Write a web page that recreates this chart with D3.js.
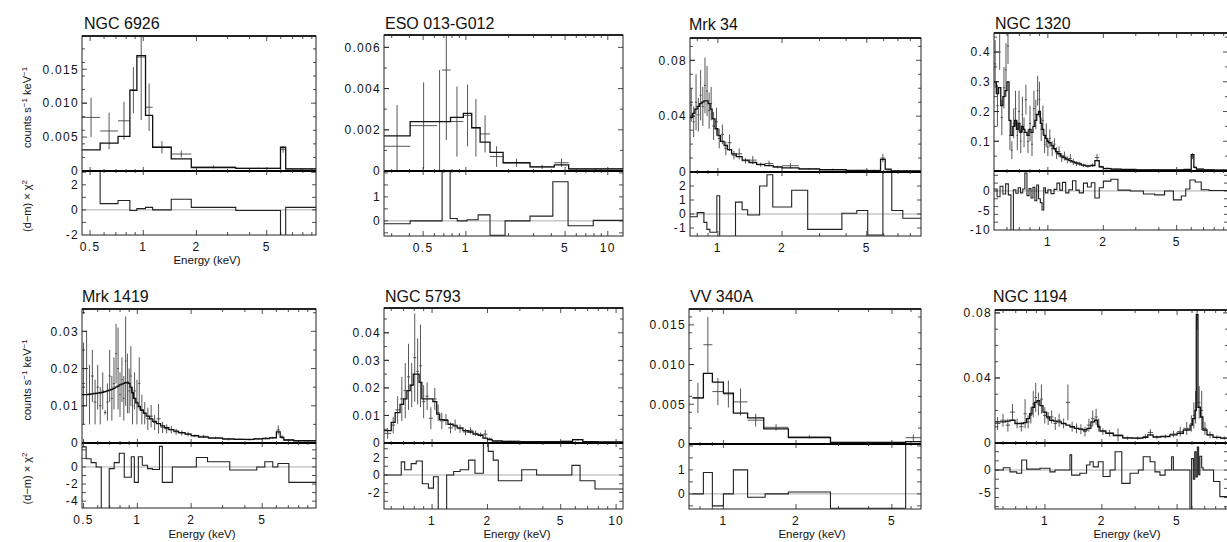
<!DOCTYPE html>
<html><head><meta charset="utf-8">
<script src="https://cdn.jsdelivr.net/npm/d3@7"></script>
<style>
body{margin:0;background:#fff;}
svg{display:block;}
text{font-family:"Liberation Sans",Arial,Helvetica,sans-serif;fill:#111;}
</style></head><body>
<svg id="chart" width="1227" height="542"></svg>
<script>
// ---------- titles ----------
const panelNames = ["NGC 6926","ESO 013-G012","Mrk 34","NGC 1320","Mrk 1419","NGC 5793","VV 340A","NGC 1194"];

// ---------- NGC 6926 ----------
const ngc6926XRange = [0.45, 9.5];
const ngc6926YRange = [0, 0.0199];
const ngc6926RRange = [-2, 3.1];
const ngc6926XTicks = [0.5, 1, 2, 5];
const ngc6926YLabels = ["0","0.005","0.010","0.015"];
const ngc6926RLabels = ["-2","0","2"];
const ngc6926Edges = [0.45, 0.57, 0.72, 0.84, 0.92, 1.03, 1.13, 1.44, 1.87, 3.34, 5.98, 6.4, 9.5];
const ngc6926Model = [0.0031, 0.0041, 0.0051, 0.0119, 0.017, 0.0082, 0.0035, 0.0018, 0.0005, 0.0004, 0.0035, 0.0003];
const ngc6926Data  = [0.0079, 0.0059, 0.0074, 0.0119, 0.0168, 0.0094, 0.0035, 0.0025, 0.0006, 0.0004, 0.0032, 0.0003];
const ngc6926Err   = [0.0029, 0.0027, 0.0028, 0.0034, 0.0093, 0.0035, 0.0009, 0.0005, 0.0002, 0.0001, 0.0005, 0.0001];
const ngc6926ResEdges = [0.45, 0.57, 0.72, 0.84, 0.92, 1.03, 1.13, 1.44, 1.87, 3.34, 5.98, 6.4, 9.5];
const ngc6926Res = [3.5, 0.5, 0.75, -0.05, 0.1, 0.2, 0, 0.85, 0.2, -0.05, -2.1, 0.2];

// ---------- ESO 013-G012 ----------
const eso013XRange = [0.265, 12.8];
const eso013YRange = [0, 0.0066];
const eso013RRange = [-0.63, 2.08];
const eso013XTicks = [0.5, 1, 5, 10];
const eso013YLabels = ["0","0.002","0.004","0.006"];
const eso013RLabels = ["0","1"];
const eso013Edges = [0.265, 0.405, 0.627, 0.68, 0.78, 0.96, 1.1, 1.26, 1.48, 1.83, 2.83, 4.2, 5.3, 12.8];
const eso013Model = [0.0017, 0.0024, 0.0024, 0.0024, 0.0026, 0.0028, 0.0021, 0.0014, 0.0009, 0.0004, 0.0002, 0.0003, 0.0001];
const eso013Data  = [0.0012, 0.0022, 0.0024, 0.0049, 0.0024, 0.0027, 0.0021, 0.0018, 0.0007, 0.0004, 0.0002, 0.0004, 0.0001];
const eso013Err   = [0.0020, 0.0021, 0.0025, 0.0034, 0.0017, 0.0015, 0.0014, 0.0009, 0.0005, 0.0002, 0.0001, 0.0002, 0.00005];
const eso013ResEdges = [0.265, 0.405, 0.68, 0.775, 0.87, 1.02, 1.22, 1.48, 1.89, 2.83, 4.1, 5.25, 7.9, 12.8];
const eso013Res = [-0.12, 0, 2.2, 0.1, 0, 0.05, 0.25, -0.6, 0, 0.2, 1.63, -0.2, 0.02];

// ---------- Mrk 34 ----------
const mrk34XRange = [0.74, 8.98];
const mrk34YRange = [0, 0.096];
const mrk34RRange = [-1.57, 3.0];
const mrk34XTicks = [1, 2, 5];
const mrk34YLabels = ["0","0.04","0.08"];
const mrk34RLabels = ["-1","0","1","2"];
const mrk34Edges = [0.74, 0.76, 0.78, 0.80, 0.82, 0.84, 0.86, 0.88, 0.90, 0.92, 0.94, 0.97, 1.0, 1.03, 1.07, 1.11, 1.16, 1.22, 1.3, 1.4, 1.52, 1.66, 1.82, 2.0, 2.4, 3.0, 4.0, 5.0, 5.8, 6.1, 6.5, 8.98];
const mrk34Model = [0.039, 0.042, 0.045, 0.047, 0.049, 0.05, 0.051, 0.051, 0.049, 0.045, 0.038, 0.031, 0.026, 0.022, 0.019, 0.016, 0.013, 0.011, 0.0085, 0.0068, 0.0055, 0.0045, 0.0037, 0.003, 0.0022, 0.0016, 0.0012, 0.001, 0.009, 0.002, 0.0007];
const mrk34Data  = [0.048, 0.036, 0.050, 0.041, 0.055, 0.047, 0.062, 0.058, 0.044, 0.049, 0.033, 0.036, 0.024, 0.027, 0.017, 0.021, 0.012, 0.013, 0.008, 0.0085, 0.0052, 0.0061, 0.0035, 0.0045, 0.0021, 0.0018, 0.0011, 0.0012, 0.01, 0.0015, 0.0007];
const mrk34Err   = [0.012, 0.011, 0.02, 0.012, 0.018, 0.014, 0.02, 0.018, 0.013, 0.012, 0.01, 0.01, 0.007, 0.007, 0.005, 0.006, 0.003, 0.004, 0.002, 0.003, 0.0015, 0.002, 0.001, 0.002, 0.0006, 0.0006, 0.0004, 0.0004, 0.003, 0.0005, 0.0003];
const mrk34ResEdges = [0.74, 0.8, 0.86, 0.888, 0.917, 0.989, 1.02, 1.1, 1.21, 1.3, 1.38, 1.57, 1.7, 1.81, 2.22, 2.64, 3.82, 4.49, 5.05, 5.95, 6.55, 7.38, 8.98];
const mrk34Res = [-0.2, 0.1, -0.6, -1.1, -1.3, 1.3, -1.7, -1.7, 0.85, 0.3, -0.07, 2.0, 2.8, 0.5, 1.7, -1.1, 0.05, 0.25, -1.5, 3.5, 0.25, -0.3];

// ---------- NGC 1320 ----------
const ngc1320XRange = [0.51, 9.5];
const ngc1320YRange = [0, 0.464];
const ngc1320RRange = [-10, 5.1];
const ngc1320XTicks = [1, 2, 5];
const ngc1320YLabels = ["0.1","0.2","0.3","0.4"];
const ngc1320RLabels = ["-10","-5","0"];
const ngc1320Edges = [0.51, 0.525, 0.54, 0.555, 0.57, 0.585, 0.60, 0.615, 0.63, 0.645, 0.66, 0.675, 0.69, 0.705, 0.72, 0.735, 0.75, 0.77, 0.79, 0.81, 0.83, 0.85, 0.87, 0.89, 0.91, 0.93, 0.95, 0.97, 0.99, 1.01, 1.04, 1.07, 1.10, 1.13, 1.17, 1.21, 1.25, 1.30, 1.35, 1.40, 1.46, 1.52, 1.60, 1.70, 1.80, 1.90, 2.0, 2.2, 2.5, 3.0, 3.5, 4.0, 4.5, 5.0, 5.5, 6.0, 6.2, 6.4, 7.0, 8.0, 9.5];
const ngc1320Model = [0.30, 0.26, 0.28, 0.22, 0.25, 0.27, 0.30, 0.17, 0.12, 0.15, 0.17, 0.14, 0.16, 0.13, 0.15, 0.14, 0.13, 0.12, 0.14, 0.13, 0.15, 0.17, 0.19, 0.20, 0.16, 0.14, 0.12, 0.11, 0.10, 0.095, 0.085, 0.075, 0.065, 0.058, 0.05, 0.045, 0.04, 0.035, 0.031, 0.027, 0.024, 0.02, 0.017, 0.018, 0.035, 0.014, 0.008, 0.006, 0.005, 0.004, 0.004, 0.0035, 0.0035, 0.004, 0.005, 0.055, 0.012, 0.006, 0.004, 0.003];
const ngc1320Data  = [0.36, 0.22, 0.40, 0.18, 0.28, 0.34, 0.42, 0.12, 0.07, 0.16, 0.21, 0.12, 0.20, 0.10, 0.19, 0.13, 0.24, 0.10, 0.16, 0.09, 0.21, 0.19, 0.27, 0.24, 0.14, 0.17, 0.09, 0.12, 0.08, 0.11, 0.075, 0.09, 0.06, 0.065, 0.045, 0.05, 0.038, 0.042, 0.03, 0.025, 0.024, 0.019, 0.016, 0.02, 0.045, 0.014, 0.009, 0.006, 0.005, 0.004, 0.004, 0.0035, 0.0035, 0.004, 0.005, 0.05, 0.012, 0.006, 0.004, 0.003];
const ngc1320Err   = [0.08, 0.07, 0.06, 0.06, 0.07, 0.09, 0.06, 0.05, 0.03, 0.05, 0.06, 0.05, 0.07, 0.04, 0.06, 0.05, 0.05, 0.04, 0.06, 0.04, 0.06, 0.05, 0.05, 0.06, 0.04, 0.05, 0.03, 0.04, 0.03, 0.03, 0.025, 0.02, 0.02, 0.018, 0.015, 0.015, 0.012, 0.015, 0.01, 0.008, 0.007, 0.006, 0.005, 0.006, 0.012, 0.004, 0.003, 0.002, 0.0015, 0.001, 0.001, 0.001, 0.001, 0.001, 0.0015, 0.01, 0.003, 0.002, 0.001, 0.001];
const ngc1320ResEdges = [0.51, 0.53, 0.55, 0.57, 0.59, 0.61, 0.63, 0.65, 0.67, 0.69, 0.71, 0.73, 0.75, 0.77, 0.79, 0.81, 0.83, 0.85, 0.87, 0.89, 0.91, 0.93, 0.95, 0.97, 1.0, 1.04, 1.08, 1.12, 1.16, 1.2, 1.25, 1.3, 1.36, 1.42, 1.48, 1.56, 1.64, 1.72, 1.8, 1.9, 2.0, 2.2, 2.4, 2.8, 3.3, 3.8, 4.3, 4.8, 5.3, 5.6, 5.9, 6.3, 6.8, 7.5, 9.5];
const ngc1320Res = [0.5, -1.5, 1.2, -0.8, 1.8, -1, -10.5, 0.3, -0.6, 0.8, -0.5, 0.5, 4.6, -1.2, 0.6, -1.8, 0.9, -2.5, 1.5, -2.0, -3.0, -4.9, 0.8, -0.5, 0.3, -0.7, 0.4, 2.0, 0.2, 2.2, -0.5, 0.3, 2.6, 0.2, -0.5, 2.0, 1.0, 2.1, -1.8, 0.8, 2.5, 3.0, 0.2, 0, -0.8, -1.0, 0, -2.3, -1.3, 0.5, 2.8, 2.3, 0.3, 0.1];

// ---------- Mrk 1419 ----------
const mrk1419XRange = [0.49, 10];
const mrk1419YRange = [0, 0.036];
const mrk1419RRange = [-4.8, 2.8];
const mrk1419XTicks = [0.5, 1, 2, 5];
const mrk1419YLabels = ["0","0.01","0.02","0.03"];
const mrk1419RLabels = ["-4","-2","0"];
const mrk1419Edges = [0.49, 0.51, 0.53, 0.55, 0.57, 0.59, 0.61, 0.63, 0.65, 0.67, 0.69, 0.71, 0.73, 0.75, 0.77, 0.79, 0.81, 0.83, 0.85, 0.87, 0.89, 0.91, 0.93, 0.95, 0.98, 1.01, 1.04, 1.08, 1.12, 1.17, 1.22, 1.28, 1.35, 1.42, 1.5, 1.6, 1.7, 1.85, 2.0, 2.2, 2.5, 3.0, 3.5, 4.0, 4.5, 5.0, 5.5, 6.0, 6.3, 6.6, 7.5, 10];
const mrk1419Model = [0.0130, 0.0130, 0.0131, 0.0132, 0.0133, 0.0134, 0.0135, 0.0136, 0.0138, 0.0140, 0.0142, 0.0144, 0.0147, 0.0150, 0.0153, 0.0156, 0.0158, 0.0160, 0.0162, 0.0163, 0.0160, 0.0150, 0.0135, 0.0120, 0.0108, 0.0098, 0.0088, 0.0080, 0.0072, 0.0065, 0.0058, 0.0052, 0.0046, 0.0041, 0.0036, 0.0032, 0.0028, 0.0024, 0.0020, 0.0016, 0.0013, 0.0011, 0.0010, 0.0010, 0.0011, 0.0012, 0.0014, 0.0030, 0.0015, 0.0008, 0.0006];
const mrk1419Data  = [0.016, 0.020, 0.013, 0.018, 0.011, 0.015, 0.010, 0.014, 0.0082, 0.011, 0.018, 0.012, 0.016, 0.024, 0.020, 0.013, 0.017, 0.012, 0.022, 0.016, 0.014, 0.018, 0.010, 0.014, 0.011, 0.016, 0.009, 0.008, 0.0065, 0.0072, 0.0055, 0.0065, 0.0042, 0.0038, 0.0036, 0.0030, 0.0027, 0.0024, 0.0019, 0.0018, 0.0014, 0.0010, 0.0010, 0.0009, 0.0011, 0.0013, 0.0014, 0.0035, 0.0016, 0.0008, 0.0006];
const mrk1419Err   = [0.011, 0.010, 0.008, 0.007, 0.006, 0.006, 0.005, 0.005, 0.0006, 0.005, 0.007, 0.006, 0.007, 0.008, 0.011, 0.006, 0.006, 0.006, 0.012, 0.008, 0.006, 0.008, 0.005, 0.005, 0.006, 0.007, 0.004, 0.003, 0.003, 0.003, 0.002, 0.004, 0.0015, 0.0012, 0.001, 0.0008, 0.0007, 0.0006, 0.0004, 0.0004, 0.0003, 0.0003, 0.0002, 0.0002, 0.0002, 0.0003, 0.0003, 0.0012, 0.0005, 0.0002, 0.0002];
const mrk1419ResEdges = [0.49, 0.517, 0.551, 0.588, 0.628, 0.696, 0.742, 0.792, 0.845, 0.925, 0.962, 1.013, 1.066, 1.14, 1.214, 1.33, 1.38, 1.57, 2.14, 2.47, 3.29, 4.66, 5.17, 5.73, 6.12, 7.05, 10];
const mrk1419Res = [2.35, 0.95, 0.5, 0, -5, -0.2, 0.5, 1.6, -1.2, 1.2, -1.8, 1.2, 0.2, -0.2, -0.3, 2.4, -1.8, 0, 1.1, 0.6, -0.35, 0, 0.6, 0, 0.4, -1.8];

// ---------- NGC 5793 ----------
const ngc5793XRange = [0.548, 10.9];
const ngc5793YRange = [0, 0.049];
const ngc5793RRange = [-3.89, 3.66];
const ngc5793XTicks = [1, 2, 5, 10];
const ngc5793YLabels = ["0","0.01","0.02","0.03","0.04"];
const ngc5793RLabels = ["-2","0","2"];
const ngc5793Edges = [0.548, 0.6, 0.63, 0.67, 0.7, 0.73, 0.76, 0.79, 0.82, 0.85, 0.88, 0.92, 0.96, 1.01, 1.06, 1.1, 1.16, 1.22, 1.3, 1.37, 1.47, 1.57, 1.67, 1.78, 1.89, 2.0, 2.12, 2.4, 3.0, 4.0, 5.0, 5.8, 6.6, 8.0, 10.9];
const ngc5793Model = [0.0045, 0.0075, 0.011, 0.014, 0.016, 0.019, 0.021, 0.025, 0.025, 0.022, 0.016, 0.016, 0.016, 0.015, 0.0105, 0.0085, 0.0082, 0.0068, 0.0062, 0.0055, 0.0045, 0.004, 0.0032, 0.0028, 0.0018, 0.0012, 0.0008, 0.0006, 0.0005, 0.0005, 0.0006, 0.0012, 0.0005, 0.0004];
const ngc5793Data  = [0.0035, 0.0065, 0.012, 0.016, 0.019, 0.024, 0.021, 0.031, 0.026, 0.028, 0.015, 0.017, 0.009, 0.016, 0.011, 0.008, 0.0085, 0.0055, 0.0065, 0.0052, 0.004, 0.0045, 0.0035, 0.003, 0.0032, 0.0015, 0.0006, 0.0006, 0.0005, 0.0005, 0.0006, 0.0012, 0.0004, 0.0003];
const ngc5793Err   = [0.002, 0.003, 0.005, 0.008, 0.01, 0.012, 0.008, 0.016, 0.012, 0.015, 0.006, 0.005, 0.004, 0.004, 0.003, 0.003, 0.002, 0.002, 0.002, 0.0015, 0.0012, 0.0012, 0.001, 0.0008, 0.0015, 0.0005, 0.0002, 0.0002, 0.0001, 0.0001, 0.0001, 0.0003, 0.0001, 0.0001];
const ngc5793ResEdges = [0.548, 0.68, 0.71, 0.77, 0.82, 0.885, 0.955, 1.017, 1.08, 1.2, 1.31, 1.42, 1.58, 1.71, 1.9, 2.02, 2.15, 2.29, 3.07, 3.7, 5.75, 6.37, 7.68, 10.9];
const ngc5793Res = [0, 1.5, 0.6, 1.3, 1.6, -1, -1.5, -0.2, -4.2, 0, 0.4, 0.6, 1.7, 0.2, 3.9, 2.7, 1.7, -0.65, 0.6, 0, 1.1, -0.65, -1.6];

// ---------- VV 340A ----------
const vv340XRange = [0.72, 6.6];
const vv340YRange = [0, 0.017];
const vv340RRange = [-0.63, 2.08];
const vv340XTicks = [1, 2, 5];
const vv340YLabels = ["0","0.005","0.010","0.015"];
const vv340RLabels = ["0","1"];
const vv340Edges = [0.744, 0.826, 0.9, 1.0, 1.1, 1.26, 1.47, 1.86, 2.78, 5.7, 6.6];
const vv340Model = [0.0058, 0.0089, 0.0078, 0.0064, 0.0039, 0.0033, 0.0019, 0.0008, 0.0002, 0.0003];
const vv340Data  = [0.0058, 0.0125, 0.0066, 0.0063, 0.0053, 0.0030, 0.0021, 0.0009, 0.0002, 0.0008];
const vv340Err   = [0.0019, 0.0035, 0.0017, 0.0017, 0.0017, 0.0008, 0.0004, 0.0002, 0.0001, 0.0004];
const vv340ResEdges = [0.744, 0.826, 0.9, 1.0, 1.1, 1.26, 1.49, 1.86, 2.78, 5.7, 6.6];
const vv340Res = [0, 0.89, -0.5, 0, 1.0, -0.14, 0, 0.08, -0.6, 2.5];

// ---------- NGC 1194 ----------
const ngc1194XRange = [0.544, 9.3];
const ngc1194YRange = [0, 0.0818];
const ngc1194RRange = [-8.5, 5.9];
const ngc1194XTicks = [1, 2, 5];
const ngc1194YLabels = ["0","0.04","0.08"];
const ngc1194RLabels = ["-5","0"];
const ngc1194Edges = [0.544, 0.58, 0.62, 0.653, 0.694, 0.73, 0.77, 0.80, 0.83, 0.854, 0.88, 0.907, 0.94, 0.976, 1.02, 1.06, 1.11, 1.157, 1.22, 1.29, 1.356, 1.43, 1.51, 1.59, 1.668, 1.75, 1.83, 1.9, 1.954, 2.1, 2.3, 2.58, 2.9, 3.3, 3.5, 3.73, 4.1, 4.58, 5.0, 5.4, 5.86, 6.05, 6.22, 6.32, 6.45, 6.65, 6.85, 7.2, 7.75, 8.5, 9.3];
const ngc1194Model = [0.013, 0.013, 0.0135, 0.014, 0.012, 0.012, 0.0125, 0.015, 0.018, 0.022, 0.025, 0.026, 0.023, 0.019, 0.016, 0.014, 0.0135, 0.013, 0.012, 0.011, 0.010, 0.009, 0.0085, 0.008, 0.009, 0.013, 0.014, 0.010, 0.0075, 0.006, 0.0045, 0.0032, 0.0030, 0.0035, 0.0050, 0.0038, 0.0040, 0.0050, 0.0060, 0.0080, 0.011, 0.015, 0.02, 0.079, 0.022, 0.016, 0.008, 0.005, 0.0035, 0.003];
const ngc1194Data  = [0.012, 0.014, 0.011, 0.019, 0.012, 0.010, 0.018, 0.013, 0.017, 0.024, 0.028, 0.024, 0.027, 0.017, 0.015, 0.016, 0.012, 0.014, 0.012, 0.025, 0.010, 0.009, 0.0085, 0.007, 0.011, 0.015, 0.016, 0.011, 0.007, 0.006, 0.005, 0.003, 0.003, 0.004, 0.0065, 0.0035, 0.004, 0.0055, 0.007, 0.009, 0.012, 0.017, 0.022, 0.076, 0.025, 0.020, 0.009, 0.005, 0.0035, 0.003];
const ngc1194Err   = [0.004, 0.004, 0.004, 0.005, 0.003, 0.003, 0.009, 0.004, 0.005, 0.008, 0.009, 0.007, 0.009, 0.005, 0.004, 0.004, 0.004, 0.004, 0.003, 0.011, 0.003, 0.003, 0.003, 0.003, 0.004, 0.005, 0.005, 0.004, 0.002, 0.002, 0.004, 0.001, 0.001, 0.0015, 0.002, 0.0012, 0.0012, 0.002, 0.003, 0.004, 0.005, 0.008, 0.01, 0.006, 0.01, 0.012, 0.004, 0.002, 0.0012, 0.001];
const ngc1194ResEdges = [0.544, 0.602, 0.653, 0.708, 0.753, 0.80, 0.941, 1.063, 1.13, 1.356, 1.384, 1.53, 1.66, 1.73, 1.8, 1.915, 2.03, 2.21, 2.35, 2.55, 2.82, 3.12, 3.31, 3.6, 3.82, 4.06, 4.32, 4.68, 4.78, 5.85, 5.97, 6.1, 6.2, 6.3, 6.4, 6.5, 6.6, 6.75, 6.87, 7.8, 8.42, 9.3];
const ngc1194Res = [0, 0.5, -0.4, -0.7, 2.2, 0.2, 0.4, -0.4, 0, 3.3, -1.1, -0.7, 1.1, 1.8, 0.7, 1.8, -1.4, 0, 4.0, -2.9, -0.7, 0, 2.9, 1.8, -0.4, -1.1, 0, 2.9, 0, -9, 2.5, -2, 4, -1.5, 5, -1, 3, 0.5, 0, -2.5, -5.8];

// ---------- assemble ----------
const series = [
  {x: ngc6926XRange, y: ngc6926YRange, r: ngc6926RRange, xt: ngc6926XTicks, yl: ngc6926YLabels, rl: ngc6926RLabels, e: ngc6926Edges, m: ngc6926Model, d: ngc6926Data, de: ngc6926Err, re: ngc6926ResEdges, rv: ngc6926Res},
  {x: eso013XRange, y: eso013YRange, r: eso013RRange, xt: eso013XTicks, yl: eso013YLabels, rl: eso013RLabels, e: eso013Edges, m: eso013Model, d: eso013Data, de: eso013Err, re: eso013ResEdges, rv: eso013Res},
  {x: mrk34XRange, y: mrk34YRange, r: mrk34RRange, xt: mrk34XTicks, yl: mrk34YLabels, rl: mrk34RLabels, e: mrk34Edges, m: mrk34Model, d: mrk34Data, de: mrk34Err, re: mrk34ResEdges, rv: mrk34Res},
  {x: ngc1320XRange, y: ngc1320YRange, r: ngc1320RRange, xt: ngc1320XTicks, yl: ngc1320YLabels, rl: ngc1320RLabels, e: ngc1320Edges, m: ngc1320Model, d: ngc1320Data, de: ngc1320Err, re: ngc1320ResEdges, rv: ngc1320Res},
  {x: mrk1419XRange, y: mrk1419YRange, r: mrk1419RRange, xt: mrk1419XTicks, yl: mrk1419YLabels, rl: mrk1419RLabels, e: mrk1419Edges, m: mrk1419Model, d: mrk1419Data, de: mrk1419Err, re: mrk1419ResEdges, rv: mrk1419Res},
  {x: ngc5793XRange, y: ngc5793YRange, r: ngc5793RRange, xt: ngc5793XTicks, yl: ngc5793YLabels, rl: ngc5793RLabels, e: ngc5793Edges, m: ngc5793Model, d: ngc5793Data, de: ngc5793Err, re: ngc5793ResEdges, rv: ngc5793Res},
  {x: vv340XRange, y: vv340YRange, r: vv340RRange, xt: vv340XTicks, yl: vv340YLabels, rl: vv340RLabels, e: vv340Edges, m: vv340Model, d: vv340Data, de: vv340Err, re: vv340ResEdges, rv: vv340Res},
  {x: ngc1194XRange, y: ngc1194YRange, r: ngc1194RRange, xt: ngc1194XTicks, yl: ngc1194YLabels, rl: ngc1194RLabels, e: ngc1194Edges, m: ngc1194Model, d: ngc1194Data, de: ngc1194Err, re: ngc1194ResEdges, rv: ngc1194Res}
];

// layout (pixel geometry of each panel)
const layout = [
  {L:82,  R:316,  T:36,  S:171, B:235, tx:84,  ty:29,  ex:207,  ey:264, yt:true},
  {L:384, R:623,  T:35,  S:171, B:236, tx:385, ty:29},
  {L:690, R:921,  T:38,  S:172, B:236, tx:689, ty:30},
  {L:994, R:1228, T:33,  S:171, B:230, tx:995, ty:29},
  {L:82,  R:316,  T:309, S:443, B:508, tx:82,  ty:302, ex:202,  ey:538, yt:true},
  {L:384, R:623,  T:308, S:443, B:509, tx:385, ty:302, ex:517,  ey:538},
  {L:689, R:921,  T:309, S:444, B:509, tx:690, ty:302, ex:812,  ey:538},
  {L:995, R:1228, T:310, S:443, B:509, tx:993, ty:302, ex:1127, ey:538}
];

const svg = d3.select("#chart");
const defs = svg.append("defs");
svg.append("rect").attr("width",1227).attr("height",542).attr("fill","#fff");

function stepPts(edges, vals){
  const pts = vals.map((v,k)=>[edges[k], v]);
  pts.push([edges[edges.length-1], vals[vals.length-1]]);
  return pts;
}

const tickFont = 12, tickSpacing = 1.3;

series.forEach((s, i) => {
  const p = layout[i];
  const g = svg.append("g");
  const x = d3.scaleLog().domain(s.x).range([p.L, p.R]);
  const y = d3.scaleLinear().domain(s.y).range([p.S, p.T]);
  const r = d3.scaleLinear().domain(s.r).range([p.B, p.S]);

  defs.append("clipPath").attr("id","ct"+i).append("rect")
    .attr("x",p.L).attr("y",p.T).attr("width",p.R-p.L).attr("height",p.S-p.T);
  defs.append("clipPath").attr("id","cr"+i).append("rect")
    .attr("x",p.L).attr("y",p.S).attr("width",p.R-p.L).attr("height",p.B-p.S);

  // residual zero line
  g.append("line").attr("x1",p.L).attr("x2",p.R).attr("y1",r(0)).attr("y2",r(0))
    .attr("stroke","#888").attr("stroke-width",0.7);

  // data crosses
  const dg = g.append("g").attr("clip-path",`url(#ct${i})`)
    .attr("stroke","#444").attr("stroke-width",0.9);
  s.d.forEach((v,k) => {
    const e0 = s.e[k], e1 = s.e[k+1], xc = Math.sqrt(e0*e1);
    dg.append("line").attr("x1",x(e0)).attr("x2",x(e1)).attr("y1",y(v)).attr("y2",y(v));
    dg.append("line").attr("x1",x(xc)).attr("x2",x(xc))
      .attr("y1",y(Math.max(v - s.de[k], s.y[0]))).attr("y2",y(v + s.de[k]));
  });

  // model step
  const line = d3.line().x(d=>x(d[0])).curve(d3.curveStepAfter);
  g.append("path").attr("clip-path",`url(#ct${i})`)
    .attr("d", line.y(d=>y(d[1]))(stepPts(s.e, s.m)))
    .attr("fill","none").attr("stroke","#111").attr("stroke-width",1.3);

  // residual step
  const rline = d3.line().x(d=>x(d[0])).y(d=>r(d[1])).curve(d3.curveStepAfter);
  g.append("path").attr("clip-path",`url(#cr${i})`)
    .attr("d", rline(stepPts(s.re, s.rv)))
    .attr("fill","none").attr("stroke","#222").attr("stroke-width",1.1);

  // frames
  g.append("rect").attr("x",p.L).attr("y",p.T).attr("width",p.R-p.L).attr("height",p.B-p.T)
    .attr("fill","none").attr("stroke","#222").attr("stroke-width",1);
  g.append("line").attr("x1",p.L).attr("x2",p.R).attr("y1",p.S).attr("y2",p.S)
    .attr("stroke","#000").attr("stroke-width",1.8);
  g.append("line").attr("x1",p.L).attr("x2",p.R).attr("y1",p.T).attr("y2",p.T)
    .attr("stroke","#000").attr("stroke-width",1.5);

  // x ticks (minor from log scale, major from tick list)
  const tg = g.append("g").attr("stroke","#222").attr("stroke-width",0.8);
  const minor = x.ticks().filter(t => t > s.x[0] && t < s.x[1]);
  minor.forEach(t => {
    const isMajor = s.xt.some(m => Math.abs(m - t) < 1e-9);
    const len = isMajor ? 5 : 3;
    const xx = x(t);
    tg.append("line").attr("x1",xx).attr("x2",xx).attr("y1",p.B).attr("y2",p.B-len);
    tg.append("line").attr("x1",xx).attr("x2",xx).attr("y1",p.T).attr("y2",p.T+len);
    tg.append("line").attr("x1",xx).attr("x2",xx).attr("y1",p.S-len+1).attr("y2",p.S+len-1);
  });
  s.xt.forEach(t => {
    g.append("text").attr("x",x(t)).attr("y",p.B+16).attr("text-anchor","middle")
      .attr("font-size",tickFont).attr("letter-spacing",tickSpacing).text(String(t));
  });

  // y ticks (top panel)
  const yVals = s.yl.map(Number);
  y.ticks(8).forEach(t => {
    if (t <= s.y[0] || t >= s.y[1]) return;
    const major = yVals.some(v => Math.abs(v - t) < 1e-12);
    const len = major ? 5 : 3;
    tg.append("line").attr("x1",p.L).attr("x2",p.L+len).attr("y1",y(t)).attr("y2",y(t));
    tg.append("line").attr("x1",p.R).attr("x2",p.R-len).attr("y1",y(t)).attr("y2",y(t));
  });
  yVals.forEach((v,k) => {
    tg.append("line").attr("x1",p.L).attr("x2",p.L+5).attr("y1",y(v)).attr("y2",y(v));
    g.append("text").attr("x",p.L-3).attr("y",y(v)).attr("dy","0.36em").attr("text-anchor","end")
      .attr("font-size",tickFont).attr("letter-spacing",tickSpacing).text(s.yl[k]);
  });
  // residual ticks
  const rVals = s.rl.map(Number);
  r.ticks(6).forEach(t => {
    if (t <= s.r[0] || t >= s.r[1]) return;
    tg.append("line").attr("x1",p.L).attr("x2",p.L+4).attr("y1",r(t)).attr("y2",r(t));
    tg.append("line").attr("x1",p.R).attr("x2",p.R-4).attr("y1",r(t)).attr("y2",r(t));
  });
  rVals.forEach((v,k) => {
    g.append("text").attr("x",p.L-3).attr("y",r(v)).attr("dy","0.36em").attr("text-anchor","end")
      .attr("font-size",tickFont).attr("letter-spacing",tickSpacing).text(s.rl[k]);
  });

  // title
  g.append("text").attr("x",p.tx).attr("y",p.ty).attr("font-size",16).text(panelNames[i]);

  // energy label
  if (p.ex) {
    g.append("text").attr("x",p.ex).attr("y",p.ey).attr("text-anchor","middle")
      .attr("font-size",11.5).text("Energy (keV)");
  }
  // y axis titles
  if (p.yt) {
    const cy = (p.T + p.S) / 2 + 4;
    const t1 = g.append("text").attr("transform",`translate(31,${cy}) rotate(-90)`)
      .attr("text-anchor","middle").attr("font-size",11);
    t1.append("tspan").text("counts s");
    t1.append("tspan").attr("dy",-4).attr("font-size",8).text("−1");
    t1.append("tspan").attr("dy",4).text(" keV");
    t1.append("tspan").attr("dy",-4).attr("font-size",8).text("−1");
    const cr = (p.S + p.B) / 2 + 3;
    const t2 = g.append("text").attr("transform",`translate(31,${cr}) rotate(-90)`)
      .attr("text-anchor","middle").attr("font-size",11);
    t2.append("tspan").text("(d−m) × χ");
    t2.append("tspan").attr("dy",-4).attr("font-size",8).text("2");
  }
});
</script>
</body></html>
